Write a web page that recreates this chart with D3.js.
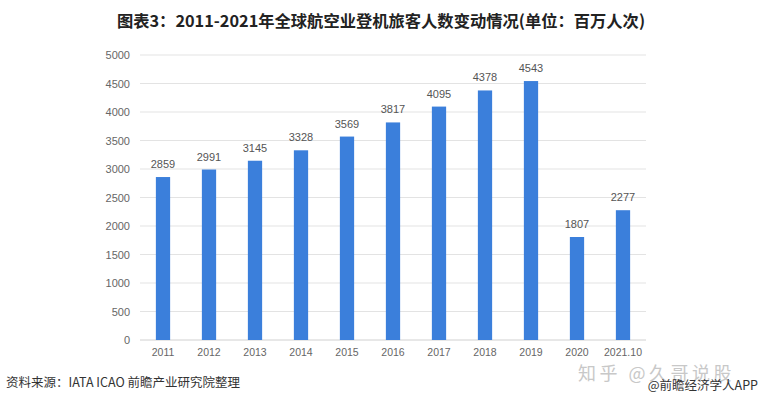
<!DOCTYPE html>
<html>
<head>
<meta charset="utf-8">
<script src="https://cdn.jsdelivr.net/npm/d3@7"></script>
<style>
  body { margin: 0; background: #fff; }
  svg { display: block; font-family: "Noto Sans CJK SC", "Liberation Sans", sans-serif; }
</style>
</head>
<body>
<svg id="chart" width="760" height="402"></svg>
<script>
// Data
const years = ["2011", "2012", "2013", "2014", "2015", "2016", "2017", "2018", "2019", "2020", "2021.10"];
const passengers = [2859, 2991, 3145, 3328, 3569, 3817, 4095, 4378, 4543, 1807, 2277];
const yTicks = [0, 500, 1000, 1500, 2000, 2500, 3000, 3500, 4000, 4500, 5000];

const svg = d3.select("#chart");

// Plot area
const plotLeft = 140, plotRight = 646, plotTop = 55, plotBottom = 340;

const x = d3.scaleBand().domain(years).range([plotLeft, plotRight]).paddingInner(0.69).paddingOuter(0.345);
const y = d3.scaleLinear().domain([0, 5000]).range([plotBottom, plotTop]);

// Title
svg.append("text")
  .attr("x", 381).attr("y", 27)
  .attr("text-anchor", "middle")
  .attr("font-size", 16.3).attr("font-weight", "bold").attr("fill", "#222")
  .text("图表3：2011-2021年全球航空业登机旅客人数变动情况(单位：百万人次)");

// Gridlines
svg.append("g").selectAll("line").data(yTicks).join("line")
  .attr("x1", plotLeft).attr("x2", plotRight)
  .attr("y1", d => y(d)).attr("y2", d => y(d))
  .attr("stroke", d => d === 0 ? "#d0d0d0" : "#e3e3e3").attr("stroke-width", 1);

// Y axis labels
svg.append("g").selectAll("text").data(yTicks).join("text")
  .attr("x", 130).attr("y", d => y(d) + 4)
  .attr("text-anchor", "end").attr("font-size", 11).attr("fill", "#666")
  .attr("font-family", "Liberation Sans, sans-serif")
  .text(d => d);

// Bars
svg.append("g").selectAll("rect").data(passengers).join("rect")
  .attr("x", (d, i) => x(years[i]))
  .attr("width", x.bandwidth())
  .attr("y", d => y(d))
  .attr("height", d => plotBottom - y(d))
  .attr("fill", "#3b7fdb");

// Value labels
svg.append("g").selectAll("text").data(passengers).join("text")
  .attr("x", (d, i) => x(years[i]) + x.bandwidth() / 2)
  .attr("y", d => y(d) - 9)
  .attr("text-anchor", "middle").attr("font-size", 11).attr("fill", "#555")
  .attr("font-family", "Liberation Sans, sans-serif")
  .text(d => d);

// X axis labels
svg.append("g").selectAll("text").data(years).join("text")
  .attr("x", d => x(d) + x.bandwidth() / 2)
  .attr("y", 356)
  .attr("text-anchor", "middle").attr("font-size", 10.5).attr("fill", "#666")
  .attr("font-family", "Liberation Sans, sans-serif")
  .text(d => d);

// Source
svg.append("text")
  .attr("x", 6).attr("y", 387)
  .attr("font-size", 12.5).attr("fill", "#333")
  .text("资料来源：IATA  ICAO 前瞻产业研究院整理");

// Zhihu watermark
svg.append("text")
  .attr("x", 578).attr("y", 380)
  .attr("font-size", 18).attr("letter-spacing", 3.5).attr("fill", "#c8c8c8")
  .text("知乎 @久哥说股");

svg.append("text")
  .attr("x", 758).attr("y", 390)
  .attr("text-anchor", "end")
  .attr("font-size", 12.5).attr("fill", "#333")
  .text("@前瞻经济学人APP");
</script>
</body>
</html>
